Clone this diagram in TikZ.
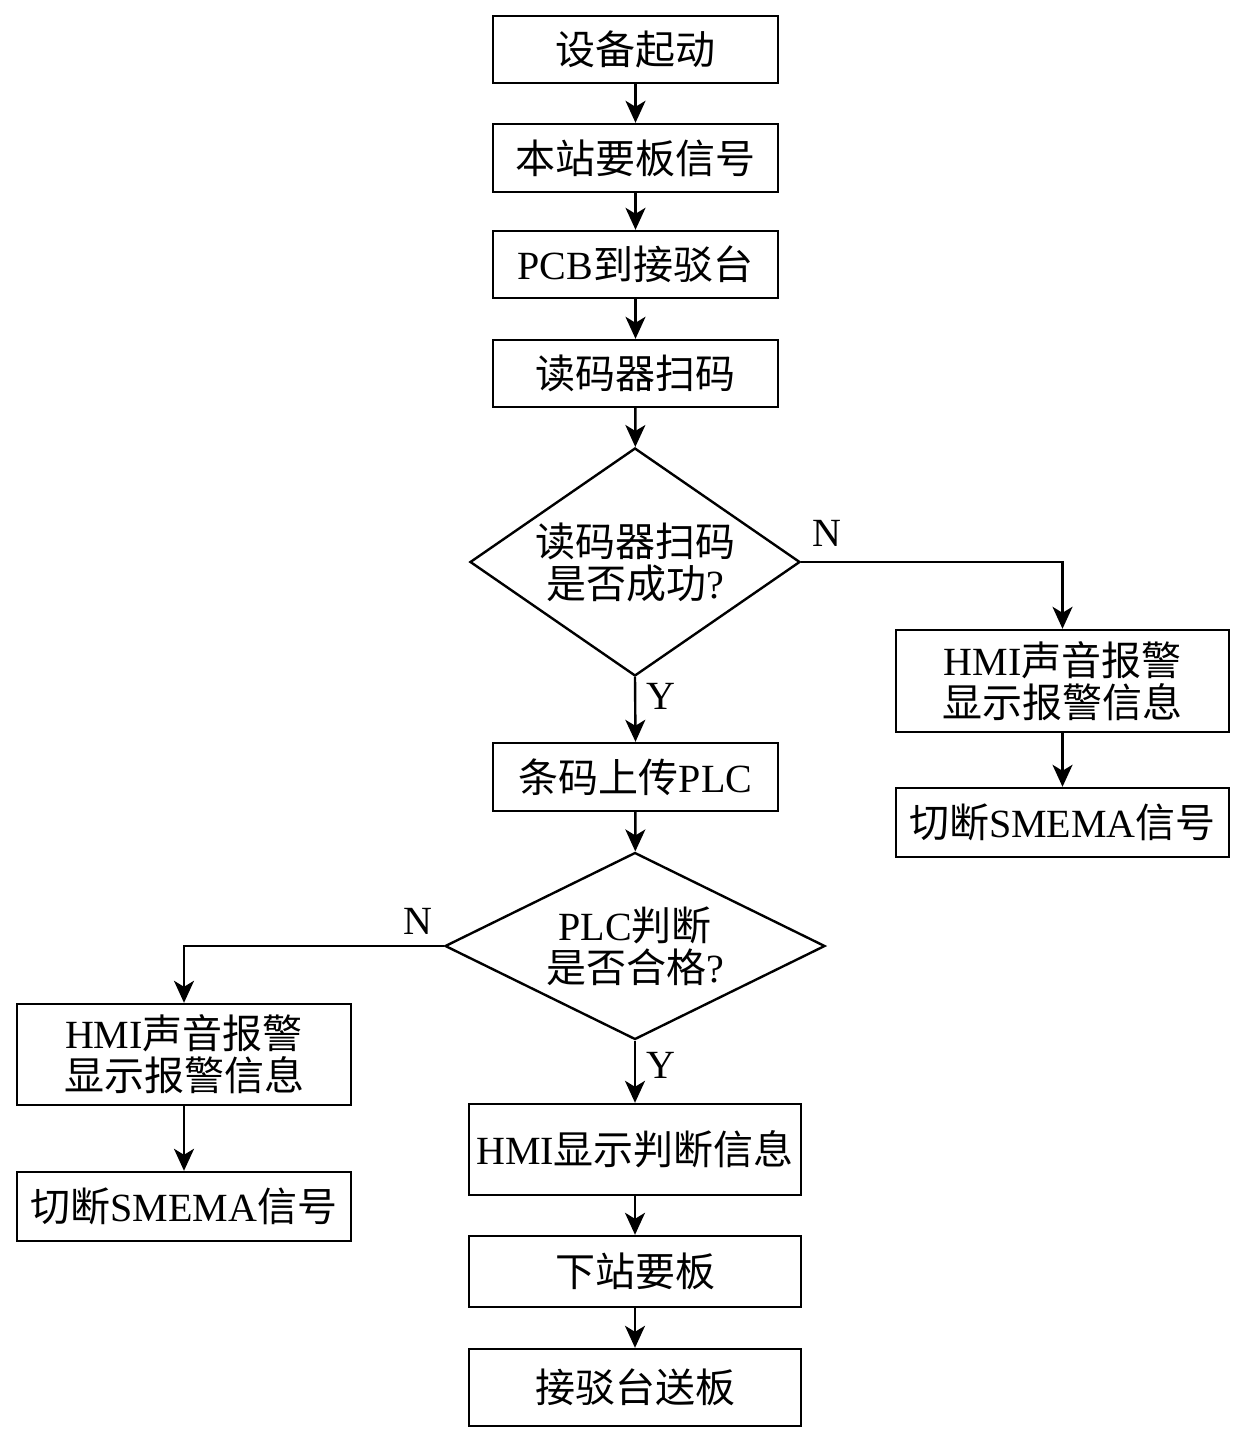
\documentclass[tikz,border=0pt]{standalone}
\usepackage{fontspec}
\setmainfont{Liberation Serif}
\newfontfamily\cjk{Noto Sans CJK SC}
\usepackage{tikz}
\usetikzlibrary{arrows.meta, shapes.geometric}

\newcommand{\zh}[1]{{\cjk #1}}

\begin{document}
\begin{tikzpicture}[x=0.5pt, y=-0.5pt,
  blk/.style={rectangle, draw, line width=1.2pt, inner sep=0pt, align=center,
    font=\fontsize{20pt}{21pt}\selectfont},
  dec/.style={diamond, draw, line width=1.2pt, inner sep=0pt},
  txt/.style={align=center, inner sep=0pt, font=\fontsize{20pt}{21pt}\selectfont},
  yn/.style={font=\fontsize{20pt}{24pt}\selectfont, inner sep=3pt},
  arr/.style={line width=1.2pt, -{Stealth[length=11pt, width=10pt, inset=3pt]}}]
\useasboundingbox (0,0) rectangle (1242,1433);

% main column
\node[blk, minimum width=142.5pt, minimum height=33.5pt] (A) at (635.5,49.5) {\zh{设备起动}};
\node[blk, minimum width=142.5pt, minimum height=34pt] (B) at (635.5,158) {\zh{本站要板信号}};
\node[blk, minimum width=142.5pt, minimum height=33.5pt] (C) at (635.5,264.5) {PCB\zh{到接驳台}};
\node[blk, minimum width=142.5pt, minimum height=33.5pt] (D) at (635.5,373.5) {\zh{读码器扫码}};
\node[dec, minimum width=165pt, minimum height=114pt] (Q1) at (635,562) {};
\node[txt] (Q1t) at (Q1) {\zh{读码器扫码}\\\zh{是否成功}?};
\node[blk, minimum width=142.5pt, minimum height=34pt] (E) at (635.5,777) {\zh{条码上传}PLC};
\node[dec, minimum width=190pt, minimum height=93.5pt] (Q2) at (635,946) {};
\node[txt] (Q2t) at (Q2) {PLC\zh{判断}\\\zh{是否合格}?};
\node[blk, minimum width=166pt, minimum height=45.5pt] (F) at (635,1149.5) {HMI\zh{显示判断信息}};
\node[blk, minimum width=166pt, minimum height=35.5pt] (G) at (635,1271.5) {\zh{下站要板}};
\node[blk, minimum width=166pt, minimum height=38.5pt] (H) at (635,1387.5) {\zh{接驳台送板}};

% right branch
\node[blk, minimum width=166.5pt, minimum height=51pt] (R1) at (1062.5,681) {HMI\zh{声音报警}\\\zh{显示报警信息}};
\node[blk, minimum width=166.5pt, minimum height=34.5pt] (R2) at (1062.5,822.5) {\zh{切断}SMEMA\zh{信号}};

% left branch
\node[blk, minimum width=167pt, minimum height=50.5pt] (L1) at (184,1054.5) {HMI\zh{声音报警}\\\zh{显示报警信息}};
\node[blk, minimum width=167pt, minimum height=34.5pt] (L2) at (184,1206.5) {\zh{切断}SMEMA\zh{信号}};

\draw[arr] (A)--(B);
\draw[arr] (B)--(C);
\draw[arr] (C)--(D);
\draw[arr] (D)--(Q1);
\draw[arr] (Q1.south)--(E.north) node[yn, pos=0.3, right, xshift=2pt] {Y};
\draw[arr] (Q1.east)-|(R1.north) node[yn, pos=0.05, above=4pt] {N};
\draw[arr] (R1)--(R2);
\draw[arr] (E)--(Q2);
\draw[arr] (Q2.west)-|(L1.north) node[yn, pos=0.05, above=2pt] {N};
\draw[arr] (L1)--(L2);
\draw[arr] (Q2.south)--(F.north) node[yn, pos=0.4, right, xshift=2pt] {Y};
\draw[arr] (F)--(G);
\draw[arr] (G)--(H);
\end{tikzpicture}
\end{document}
